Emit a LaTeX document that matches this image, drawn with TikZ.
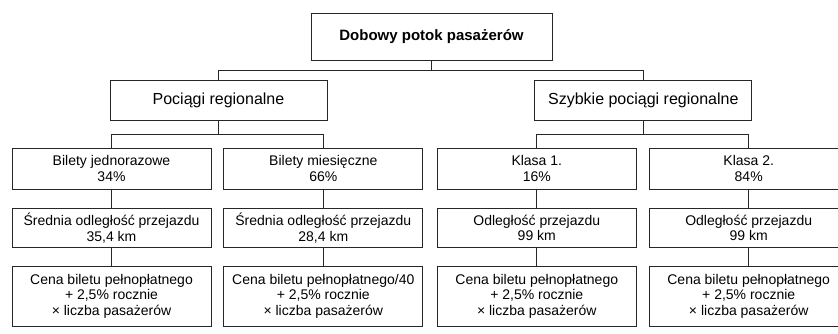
\documentclass[tikz,border=0pt]{standalone}
\usepackage{fontspec}
\setmainfont{Liberation Sans}
\tikzset{
  box/.style={draw=black!85, line width=0.9pt, minimum width=199pt, inner sep=0pt,
    align=center, font=\fontsize{14}{15.7}\selectfont},
  link/.style={draw=black!85, line width=0.9pt},
}
\begin{document}
\begin{tikzpicture}[x=1pt,y=-1pt]
\useasboundingbox (0,0) rectangle (838,334);
% top of the tree
\node[box, minimum width=241pt, minimum height=47pt, font=\fontsize{15}{17}\selectfont\bfseries] (top) at (431.5,36.5) {Dobowy potok pasażerów};
\node[box, minimum width=217pt, minimum height=40pt, font=\fontsize{16}{18}\selectfont] (reg) at (218.5,100) {Pociągi regionalne};
\node[box, minimum width=217pt, minimum height=40pt, font=\fontsize{16}{18}\selectfont] (fast) at (643.3,100) {Szybkie pociągi regionalne};
% ticket kinds and classes
\node[box, minimum height=41pt] (a1) at (111.5,168.6) {Bilety jednorazowe\\34\%};
\node[box, minimum height=41pt] (a2) at (323.3,168.6) {Bilety miesięczne\\66\%};
\node[box, minimum height=41pt] (a3) at (536.8,168.6) {Klasa 1.\\16\%};
\node[box, minimum height=41pt] (a4) at (748.7,168.6) {Klasa 2.\\84\%};
% distances
\node[box, minimum height=39.5pt] (b1) at (111.5,228) {Średnia odległość przejazdu\\35,4 km};
\node[box, minimum height=39.5pt] (b2) at (323.3,228) {Średnia odległość przejazdu\\28,4 km};
\node[box, minimum height=39.5pt] (b3) at (536.8,228) {Odległość przejazdu\\99 km};
\node[box, minimum height=39.5pt] (b4) at (748.7,228) {Odległość przejazdu\\99 km};
% prices
\node[box, minimum height=59.3pt] (c1) at (111.5,296.3) {Cena biletu pełnopłatnego\\+ 2,5\% rocznie\\× liczba pasażerów};
\node[box, minimum height=59.3pt] (c2) at (323.3,296.3) {Cena biletu pełnopłatnego/40\\+ 2,5\% rocznie\\× liczba pasażerów};
\node[box, minimum height=59.3pt] (c3) at (536.8,296.3) {Cena biletu pełnopłatnego\\+ 2,5\% rocznie\\× liczba pasażerów};
\node[box, minimum height=59.3pt] (c4) at (748.7,296.3) {Cena biletu pełnopłatnego\\+ 2,5\% rocznie\\× liczba pasażerów};
% connectors
\foreach \n in {reg,fast} \draw[link] (top.south) -- ++(0,10) -| (\n.north);
\foreach \n in {a1,a2} \draw[link] (reg.south) -- ++(0,14) -| (\n.north);
\foreach \n in {a3,a4} \draw[link] (fast.south) -- ++(0,14) -| (\n.north);
\foreach \c in {1,...,4} {
  \draw[link] (a\c) -- (b\c);
  \draw[link] (b\c) -- (c\c);
}
\end{tikzpicture}
\end{document}
